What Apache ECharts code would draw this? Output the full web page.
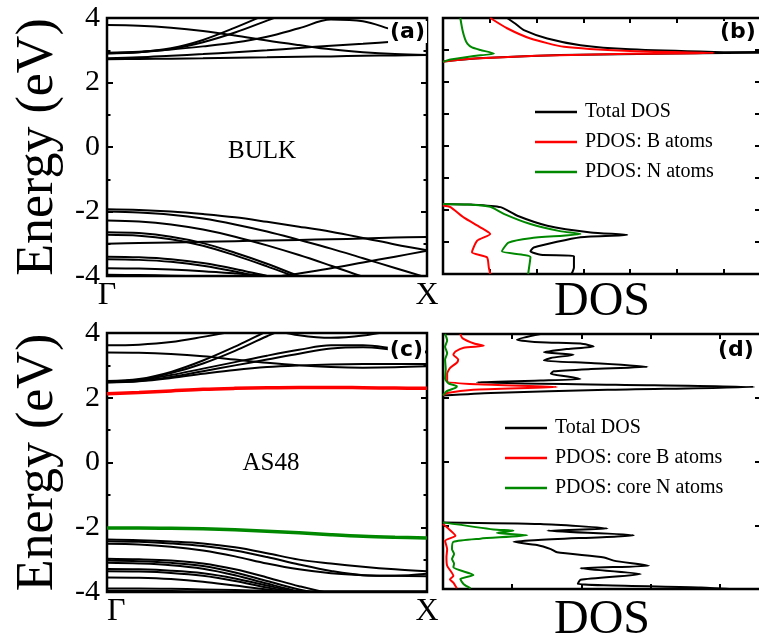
<!DOCTYPE html>
<html><head><meta charset="utf-8">
<script src="https://cdn.jsdelivr.net/npm/echarts@6/dist/echarts.min.js"></script>
<style>html,body{margin:0;padding:0;background:#fff}#c{width:759px;height:636px}</style>
</head><body><div id="c"></div>
<script>
// ---------- DATA ----------
const kPoints = [0, 0.1, 0.2, 0.3, 0.4, 0.5, 0.6, 0.7, 0.8, 0.9, 1.0];
const kLabels = ['Γ', 'X'];

// Panel (a) BULK band energies (eV) at kPoints
const bulkConduction = [
  [2.72, 2.73, 2.74, 2.75, 2.77, 2.78, 2.80, 2.81, 2.83, 2.84, 2.85],
  [2.75, 2.78, 2.83, 2.88, 2.94, 3.00, 3.07, 3.14, 3.20, 3.27, 3.33],
  [2.90, 2.94, 3.06, 3.32, 3.70, 4.12, 4.55, 5.00, 5.40, 5.70, 6.00],
  [2.91, 2.94, 3.04, 3.25, 3.55, 3.92, 4.30, 4.70, 5.00, 5.30, 5.50],
  [2.92, 2.95, 3.02, 3.12, 3.24, 3.42, 3.68, 3.95, 3.90, 3.62, 3.45],
  [3.78, 3.76, 3.70, 3.60, 3.46, 3.30, 3.16, 3.03, 2.94, 2.88, 2.85]
];
const bulkValence = [
  [-1.93, -1.95, -2.00, -2.08, -2.18, -2.32, -2.47, -2.63, -2.82, -3.02, -3.20],
  [-2.00, -2.03, -2.10, -2.22, -2.40, -2.62, -2.88, -3.15, -3.45, -3.75, -4.05],
  [-2.28, -2.31, -2.40, -2.56, -2.78, -3.05, -3.35, -3.68, -4.02, -4.30, -4.50],
  [-2.64, -2.67, -2.78, -2.98, -3.28, -3.62, -4.00, -4.30, -4.50, -4.60, -4.70],
  [-2.72, -2.75, -2.86, -3.06, -3.36, -3.70, -4.06, -4.35, -4.50, -4.60, -4.70],
  [-3.00, -2.98, -2.96, -2.94, -2.92, -2.90, -2.88, -2.86, -2.84, -2.81, -2.79],
  [-3.40, -3.42, -3.48, -3.60, -3.78, -4.00, -4.20, -4.35, -4.45, -4.50, -4.55],
  [-3.48, -3.50, -3.56, -3.68, -3.86, -4.08, -4.28, -4.40, -4.50, -4.55, -4.60],
  [-3.76, -3.77, -3.80, -3.85, -3.92, -4.00, -4.10, -4.20, -4.30, -4.40, -4.50],
  [-4.60, -4.60, -4.55, -4.45, -4.30, -4.08, -3.92, -3.76, -3.58, -3.40, -3.22],
  [-3.96, -3.97, -3.99, -4.02, -4.06, -4.12, -4.20, -4.30, -4.40, -4.50, -4.60]
];

// Panel (c) AS48 band energies (eV) at kPoints
const as48CoreB = [2.12, 2.16, 2.21, 2.26, 2.29, 2.31, 2.32, 2.32, 2.31, 2.30, 2.29];
const as48CoreN = [-2.02, -2.02, -2.03, -2.05, -2.08, -2.12, -2.17, -2.23, -2.28, -2.31, -2.33];
const as48Conduction = [
  [3.62, 3.64, 3.72, 3.88, 4.06, 4.25, 4.45, 4.60, 4.70, 4.80, 4.90],
  [3.40, 3.39, 3.35, 3.28, 3.18, 3.08, 3.00, 2.95, 2.93, 2.94, 2.97],
  [2.52, 2.58, 2.80, 3.15, 3.58, 4.05, 4.45, 4.70, 4.90, 5.00, 5.10],
  [2.50, 2.56, 2.76, 3.06, 3.45, 3.90, 4.30, 4.60, 4.80, 4.90, 5.00],
  [2.50, 2.55, 2.70, 2.90, 3.10, 3.30, 3.48, 3.62, 3.62, 3.52, 3.42],
  [2.48, 2.52, 2.64, 2.82, 3.00, 3.18, 3.36, 3.52, 3.56, 3.48, 3.40],
  [2.47, 2.51, 2.61, 2.74, 2.86, 2.95, 3.00, 3.03, 3.04, 3.04, 3.04],
  [4.60, 4.55, 4.50, 4.42, 4.30, 4.12, 3.93, 3.85, 3.92, 4.10, 4.30]
];
const as48Valence = [
  [-2.38, -2.40, -2.44, -2.50, -2.62, -2.80, -3.00, -3.12, -3.22, -3.30, -3.36],
  [-2.43, -2.45, -2.50, -2.58, -2.72, -2.92, -3.15, -3.35, -3.48, -3.50, -3.44],
  [-2.51, -2.53, -2.60, -2.72, -2.90, -3.12, -3.30, -3.42, -3.48, -3.50, -3.51],
  [-2.97, -2.99, -3.03, -3.12, -3.30, -3.55, -3.82, -4.05, -4.20, -4.30, -4.30],
  [-3.03, -3.05, -3.10, -3.20, -3.40, -3.66, -3.92, -4.10, -4.20, -4.30, -4.30],
  [-3.10, -3.12, -3.17, -3.28, -3.48, -3.74, -3.98, -4.15, -4.25, -4.30, -4.30],
  [-3.29, -3.30, -3.34, -3.42, -3.58, -3.80, -4.00, -4.10, -4.20, -4.25, -4.30],
  [-3.36, -3.37, -3.41, -3.50, -3.66, -3.86, -4.02, -4.12, -4.20, -4.25, -4.30],
  [-3.55, -3.56, -3.60, -3.68, -3.80, -3.92, -4.00, -4.05, -4.10, -4.15, -4.20],
  [-3.89, -3.89, -3.90, -3.92, -3.94, -3.96, -3.97, -3.98, -3.98, -3.98, -3.98],
  [-3.96, -3.96, -3.97, -3.98, -3.99, -4.00, -4.02, -4.04, -4.06, -4.08, -4.10]
];

// Panel (b) DOS: [dos, energy]; null = gap
const bulkTotalDos = [[1.37,4.0],[1.55,3.82],[1.73,3.62],[2.23,3.36],[2.94,3.15],[4.0,3.02],[5.8,2.94],[7.2,2.92],[5.0,2.89],[2.5,2.84],[1.0,2.76],[0.3,2.69],[0,2.64],
  null,
  [0,-1.81],[0.6,-1.83],[1.23,-1.91],[1.59,-2.18],[2.23,-2.49],[3.16,-2.70],[3.94,-2.78],[2.94,-2.85],[1.94,-3.17],[1.87,-3.29],[2.09,-3.40],[2.8,-3.44],[2.8,-3.8],[2.75,-4.0]];
const bulkBDos = [[1.01,4.0],[1.37,3.68],[1.87,3.36],[2.59,3.10],[4.0,2.97],[5.8,2.91],[4.0,2.88],[2.0,2.82],[0.8,2.74],[0.2,2.67],[0,2.63],
  null,
  [0,-1.86],[0.16,-1.91],[0.44,-2.23],[0.8,-2.54],[1.01,-2.75],[0.73,-2.96],[0.62,-3.32],[0.94,-3.48],[0.98,-3.8],[1.01,-4.0]];
const bulkNDos = [[0.37,4.0],[0.42,3.6],[0.47,3.35],[0.52,3.2],[0.62,3.08],[0.8,3.0],[1.09,2.89],[0.66,2.81],[0.16,2.70],[0,2.63],
  null,
  [0,-1.81],[0.5,-1.83],[1.01,-1.90],[1.3,-2.12],[1.87,-2.44],[2.5,-2.66],[2.94,-2.75],[1.87,-2.88],[1.4,-3.02],[1.26,-3.29],[1.87,-3.47],[1.82,-4.0]];

// Panel (d) DOS: [dos, energy]
const as48TotalDos = [[1.41,4.0],[1.07,3.82],[1.41,3.74],[1.99,3.70],[2.18,3.61],[1.80,3.53],[1.46,3.43],[1.89,3.35],[1.56,3.25],[1.46,3.17],[2.14,3.09],[2.96,2.97],[2.14,2.90],[1.60,2.83],[1.56,2.75],[1.80,2.67],[1.99,2.59],[1.41,2.54],[0.49,2.48],[2.5,2.41],[4.5,2.34],[2.38,2.25],[0.69,2.15],[0,2.07],
  null,
  [0,-1.91],[1.41,-1.96],[2.38,-2.10],[1.51,-2.17],[2.76,-2.31],[1.02,-2.52],[1.36,-2.62],[1.56,-2.75],[1.65,-2.85],[2.33,-3.01],[2.47,-3.11],[2.98,-3.27],[1.99,-3.35],[2.86,-3.53],[1.99,-3.71],[1.95,-3.84],[3.73,-3.95],[4.3,-4.02]];
const as48CoreBDos = [[0.25,4.0],[0.28,3.87],[0.45,3.70],[0.59,3.63],[0.3,3.57],[0.18,3.45],[0.15,3.35],[0.22,3.2],[0.2,3.1],[0.1,2.93],[0.06,2.75],[0.06,2.52],[0.5,2.42],[1.65,2.34],[0.44,2.25],[0.06,2.15],[0,2.07],
  null,
  [0,-1.96],[0.06,-2.07],[0.18,-2.33],[0.03,-2.49],[0.06,-2.75],[0.05,-3.0],[0.06,-3.27],[0.15,-3.59],[0.1,-3.7],[0.15,-3.80],[0.20,-3.98]];
const as48CoreNDos = [[0.03,4.0],[0.06,3.8],[0.03,3.6],[0.06,3.4],[0.03,3.2],[0.04,2.9],[0.03,2.6],[0.08,2.45],[0.2,2.36],[0.18,2.31],[0.05,2.2],[0,2.07],
  null,
  [0,-1.91],[0.73,-2.13],[1.02,-2.17],[0.78,-2.24],[1.22,-2.31],[0.54,-2.42],[0.15,-2.52],[0.13,-2.75],[0.16,-2.9],[0.13,-3.06],[0.16,-3.2],[0.15,-3.32],[0.44,-3.56],[0.25,-3.69],[0.3,-3.85],[0.40,-3.98]];

const legendBulk = ['Total DOS', 'PDOS: B atoms', 'PDOS: N atoms'];
const legendAs48 = ['Total DOS', 'PDOS: core B atoms', 'PDOS: core N atoms'];
const panelTags = ['(a)', '(b)', '(c)', '(d)'];
const panelNames = ['BULK', 'AS48'];

// ---------- CHART ----------
const SERIF = 'Liberation Serif, Times New Roman, DejaVu Serif, serif';
const chart = echarts.init(document.getElementById('c'), null, {renderer: 'canvas'});

const gridBase = {show: true, borderColor: '#000', borderWidth: 2.5, backgroundColor: 'transparent',
  containLabel: false, outerBoundsMode: 'none'};
const grids = [
  Object.assign({left: 107, top: 18, width: 320, height: 258}, gridBase),
  Object.assign({left: 443, top: 18, width: 318, height: 256}, gridBase),
  Object.assign({left: 107, top: 333, width: 320, height: 259}, gridBase),
  Object.assign({left: 443, top: 334, width: 318, height: 255}, gridBase)
];

function kAxis(gi, alignMin) {
  return {type: 'value', gridIndex: gi, min: 0, max: 1, interval: 1,
    axisLine: {show: false, onZero: false}, axisTick: {show: false}, splitLine: {show: false},
    axisLabel: {show: true, margin: 4, fontSize: 32, fontFamily: SERIF, color: '#000',
      alignMinLabel: alignMin, formatter: v => (v === 0 ? kLabels[0] : kLabels[1])}};
}
function dosAxis(gi, max, pos, named, gap) {
  const a = {type: 'value', gridIndex: gi, min: 0, max: max, interval: 1, position: pos,
    axisLine: {show: false, onZero: false}, splitLine: {show: false},
    axisTick: {show: true, inside: true, length: 5, lineStyle: {color: '#000', width: 2}},
    axisLabel: {show: false}};
  if (named) {
    a.name = 'DOS'; a.nameLocation = 'middle'; a.nameGap = gap;
    a.nameTextStyle = {fontSize: 48, fontFamily: SERIF, color: '#000', verticalAlign: 'top'};
  }
  return a;
}
function eAxis(gi, pos, interval, labels, minor) {
  const a = {type: 'value', gridIndex: gi, min: -4, max: 4, interval: interval, position: pos,
    axisLine: {show: false, onZero: false}, splitLine: {show: false},
    axisTick: {show: true, inside: true, length: 6, lineStyle: {color: '#000', width: 2}},
    minorTick: {show: minor, splitNumber: 2, length: 3.5, lineStyle: {color: '#000', width: 2}},
    minorSplitLine: {show: false},
    axisLabel: {show: labels, margin: 7, fontSize: 30, fontFamily: SERIF, color: '#000'}};
  if (labels) {
    a.name = 'Energy (eV)'; a.nameLocation = 'middle'; a.nameGap = 43; a.nameRotate = 90;
    a.nameTextStyle = {fontSize: 52, fontFamily: SERIF, color: '#000'};
  }
  return a;
}

const xAxes = [
  kAxis(0, 'center'),
  dosAxis(1, 6.8, 'bottom', true, 4),
  dosAxis(1, 6.8, 'top', false),
  kAxis(2, 'left'),
  dosAxis(3, 4.6, 'bottom', true, 7),
  dosAxis(3, 4.6, 'top', false)
];
const yAxes = [
  eAxis(0, 'left', 2, true, true), eAxis(0, 'right', 2, false, true),
  eAxis(1, 'left', 1, false, false), eAxis(1, 'right', 1, false, false),
  eAxis(2, 'left', 2, true, true), eAxis(2, 'right', 2, false, true),
  eAxis(3, 'left', 2, false, false), eAxis(3, 'right', 2, false, false)
];

const series = [];
function band(values, xi, yi, color, width) {
  series.push({type: 'line', xAxisIndex: xi, yAxisIndex: yi, silent: true, symbol: 'none',
    smooth: 0.35, clip: true, data: kPoints.map((k, i) => [k, values[i]]),
    lineStyle: {color: color, width: width}});
}
bulkConduction.forEach(b => band(b, 0, 0, '#000', 2));
bulkValence.forEach(b => band(b, 0, 0, '#000', 2));
as48Conduction.forEach(b => band(b, 3, 4, '#000', 2));
as48Valence.forEach(b => band(b, 3, 4, '#000', 2));
band(as48CoreB, 3, 4, '#ff0000', 3.5);
band(as48CoreN, 3, 4, '#008800', 3.5);

function dos(name, data, xi, yi, color) {
  series.push({type: 'line', name: name, xAxisIndex: xi, yAxisIndex: yi, symbol: 'none',
    smooth: 0.2, clip: true, connectNulls: false, data: data,
    lineStyle: {color: color, width: 2}, itemStyle: {color: color}});
}
dos(legendBulk[0], bulkTotalDos, 1, 2, '#000');
dos(legendBulk[1], bulkBDos, 1, 2, '#ff0000');
dos(legendBulk[2], bulkNDos, 1, 2, '#008800');
dos(legendAs48[0], as48TotalDos, 4, 6, '#000');
dos(legendAs48[1], as48CoreBDos, 4, 6, '#ff0000');
dos(legendAs48[2], as48CoreNDos, 4, 6, '#008800');

const legendText = {fontSize: 20, fontFamily: SERIF, color: '#000', lineHeight: 24, padding: [0, 0, 0, 3]};
const legends = [
  {data: legendBulk, orient: 'vertical', left: 535, top: 100, padding: 0, icon: 'rect', itemWidth: 42, itemHeight: 2.5, itemGap: 6,
    textStyle: legendText, selectedMode: false},
  {data: legendAs48, orient: 'vertical', left: 505, top: 416, padding: 0, icon: 'rect', itemWidth: 42, itemHeight: 2.5, itemGap: 6,
    textStyle: legendText, selectedMode: false}
];

const tagStyle = {fontSize: 22, fontWeight: 'bold', fontFamily: 'DejaVu Sans, sans-serif', color: '#000'};
const titles = [
  {text: panelTags[0], right: 332, top: 21, padding: [0, 2, 0, 2], backgroundColor: '#fff', textStyle: tagStyle},
  {text: panelTags[1], left: 718, top: 21, padding: [0, 2, 0, 2], backgroundColor: '#fff', textStyle: tagStyle},
  {text: panelTags[2], right: 334, top: 339, padding: [0, 2, 0, 2], backgroundColor: '#fff', textStyle: tagStyle},
  {text: panelTags[3], left: 716, top: 339, padding: [0, 2, 0, 2], backgroundColor: '#fff', textStyle: tagStyle}
];

chart.setOption({
  animation: false,
  backgroundColor: '#fff',
  title: titles,
  legend: legends,
  grid: grids,
  xAxis: xAxes,
  yAxis: yAxes,
  series: series,
  graphic: [
    {type: 'text', x: 262, y: 151, style: {text: panelNames[0], fontSize: 25, fontFamily: SERIF, fill: '#000', textAlign: 'center', textVerticalAlign: 'middle'}},
    {type: 'text', x: 271, y: 463, style: {text: panelNames[1], fontSize: 25, fontFamily: SERIF, fill: '#000', textAlign: 'center', textVerticalAlign: 'middle'}}
  ]
});
</script></body></html>
